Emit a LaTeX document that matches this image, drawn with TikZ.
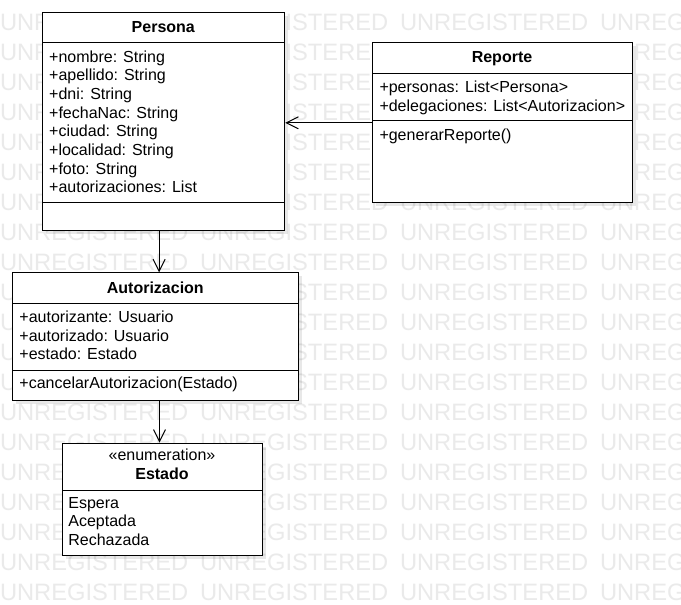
\documentclass[tikz,border=0pt]{standalone}
\usepackage{fontspec}
\setmainfont{Liberation Sans}
\usetikzlibrary{arrows.meta}
\definecolor{wmgray}{RGB}{234,234,234}
\begin{document}
\begin{tikzpicture}[x=1pt,y=-1pt,
  box/.style={draw=black, line width=1pt, fill=white, rectangle, inner sep=0pt, anchor=north west},
  sep/.style={draw=black, line width=1pt},
  shadowbox/.style={fill=black, opacity=0.09},
  txt/.style={anchor=base west, inner sep=0pt, font=\fontsize{16}{18.67}\selectfont},
  hdr/.style={anchor=base, inner sep=0pt, font=\fontsize{16}{18.67}\selectfont\bfseries},
  stereo/.style={anchor=base, inner sep=0pt, font=\fontsize{16}{18.67}\selectfont},
  wmk/.style={anchor=base west, inner sep=0pt, text=wmgray, font=\fontsize{23.7}{24}\selectfont},
  assoc/.style={draw=black, line width=1pt, -{Straight Barb[length=12pt,width=12pt,line width=1pt]}}]
\useasboundingbox (0,0) rectangle (681,605);
\fill[white] (0,0) rectangle (681,605);
% watermark
\begin{scope}
\clip (0,0) rectangle (681,605);
\foreach \r in {0,...,19}{
  \foreach \c in {0,...,3}{
    \node[wmk] (wm-\r-\c) at ({-0.2+200*\c},{30.7+30*\r}) {UNREGISTERED};
  }
}
\end{scope}
% shadows
\fill[shadowbox] (46.3,16.3) rectangle (288.3,234);
\fill[shadowbox] (376.3,46.3) rectangle (635.7,206.3);
\fill[shadowbox] (16.3,276.3) rectangle (302.3,404);
\fill[shadowbox] (66.3,446.7) rectangle (265.7,559);
% boxes
\node[box, minimum width=242pt, minimum height=217.7pt] (persona) at (42.3,12.3) {};
\node[box, minimum width=259.4pt, minimum height=160pt] (reporte) at (372.3,42.3) {};
\node[box, minimum width=286pt, minimum height=127.7pt] (autor) at (12.3,272.3) {};
\node[box, minimum width=199.4pt, minimum height=112.3pt] (estado) at (62.3,442.7) {};
% separators
\draw[sep] (persona.west |- 0,42.7) -- (persona.east |- 0,42.7);
\draw[sep] (persona.west |- 0,202.7) -- (persona.east |- 0,202.7);
\draw[sep] (reporte.west |- 0,73.3) -- (reporte.east |- 0,73.3);
\draw[sep] (reporte.west |- 0,120.7) -- (reporte.east |- 0,120.7);
\draw[sep] (autor.west |- 0,303.3) -- (autor.east |- 0,303.3);
\draw[sep] (autor.west |- 0,370) -- (autor.east |- 0,370);
\draw[sep] (estado.west |- 0,490) -- (estado.east |- 0,490);
% Persona
\node[hdr] (persona-h) at (163.3,32.7) {Persona};
\node[txt] (pa1) at (49,62.3) {+nombre: String};
\node[txt] (pa2) at (49,80.97) {+apellido: String};
\node[txt] (pa3) at (49,99.64) {+dni: String};
\node[txt] (pa4) at (49,118.31) {+fechaNac: String};
\node[txt] (pa5) at (49,136.98) {+ciudad: String};
\node[txt] (pa6) at (49,155.65) {+localidad: String};
\node[txt] (pa7) at (49,174.32) {+foto: String};
\node[txt] (pa8) at (49,192.99) {+autorizaciones: List};
% Reporte
\node[hdr] (reporte-h) at (502,62.7) {Reporte};
\node[txt] (ra1) at (379.3,92.7) {+personas: List<Persona>};
\node[txt] (ra2) at (379.3,111.4) {+delegaciones: List<Autorizacion>};
\node[txt] (rm1) at (379.3,140.5) {+generarReporte()};
% Autorizacion
\node[hdr] (autor-h) at (155.3,293.3) {Autorizacion};
\node[txt] (aa1) at (19.3,322.5) {+autorizante: Usuario};
\node[txt] (aa2) at (19.3,341.2) {+autorizado: Usuario};
\node[txt] (aa3) at (19.3,359.9) {+estado: Estado};
\node[txt] (am1) at (19.3,388.8) {+cancelarAutorizacion(Estado)};
% Estado
\node[stereo] (estado-s) at (162,460.7) {«enumeration»};
\node[hdr] (estado-h) at (162,479) {Estado};
\node[txt] (ev1) at (68.2,508.2) {Espera};
\node[txt] (ev2) at (68.2,526.9) {Aceptada};
\node[txt] (ev3) at (68.2,545.5) {Rechazada};
% connectors
\draw[assoc] (reporte.west) -- (reporte.west -| persona.east);
\coordinate (c1) at ([xshift=-4.7pt]persona.south);
\draw[assoc] (c1) -- (c1 |- autor.north);
\coordinate (c2) at ([xshift=-3pt]estado.north);
\draw[assoc] (c2 |- autor.south) -- (c2);
\end{tikzpicture}
\end{document}
